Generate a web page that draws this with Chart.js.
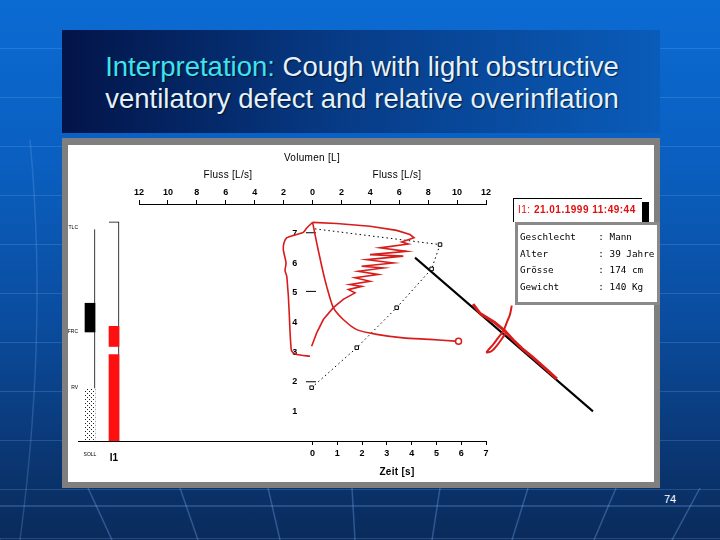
<!DOCTYPE html>
<html>
<head>
<meta charset="utf-8">
<script src="https://cdn.jsdelivr.net/npm/chart.js@4.4.1/dist/chart.umd.min.js"></script>
<style>
  body { margin: 0; }
  #slide {
    position: relative; width: 720px; height: 540px; overflow: hidden;
    font-family: "Liberation Sans", Arial, sans-serif;
    background:
      repeating-linear-gradient(to bottom, rgba(0,0,0,0) 0 48px, rgba(130,180,240,0.22) 48px 49px),
      linear-gradient(to bottom, #0b6bd3 0%, #0a5fc0 30%, #0a4c9e 60%, #0a3672 85%, #0a2b5b 100%);
  }
  #deco { position: absolute; left: 0; top: 0; }
  #titlebox {
    position: absolute; left: 62px; top: 30px; width: 598px; height: 103px;
    background: linear-gradient(to right, #021448 0%, #073a84 45%, #0a5cba 100%);
  }
  #title {
    position: absolute; left: 0; top: 21px; width: 600px; text-align: center;
    font-size: 27.5px; line-height: 32px; color: #e4f1ff;
    text-shadow: 1px 1px 1px rgba(0,0,0,0.6);
  }
  #title .hl { color: #3fe2f0; }
  #frame {
    position: absolute; left: 62px; top: 138px; width: 598px; height: 350px;
    background: #7f7f7f;
  }
  #white {
    position: absolute; left: 68px; top: 145px; width: 586px; height: 337px;
    background: #fff;
  }
  #white canvas { position: absolute; left: 0; top: 0; }
  .lbl { position: absolute; font-size: 10px; color: #000; white-space: nowrap;
         letter-spacing: 0.3px; transform: translate(-50%, -50%); }
  #stamp {
    position: absolute; left: 445px; top: 53px; width: 129px; height: 24px;
    border-left: 1px solid #000; border-top: 1px solid #000; background: #fff;
    box-shadow: 7px 4px 0 0 #000;
    font-size: 10px; font-weight: bold; color: #e01010; letter-spacing: 0.5px;
    line-height: 21px; padding-left: 4px; box-sizing: border-box;
  }
  #stamp span { font-weight: normal; }
  #patient {
    position: absolute; left: 447px; top: 77px; width: 145px; height: 83px;
    border: 3px solid #8a8a8a; box-sizing: border-box; background: #fff;
    font-family: "DejaVu Sans Mono", monospace; font-size: 9.3px; color: #000;
    white-space: pre; padding: 4px 0 0 2px; line-height: 16.5px; overflow: hidden;
  }
  #page { position: absolute; left: 664px; top: 493px; font-size: 11px; color: #fff; }
</style>
</head>
<body>
<div id="slide">
  <svg id="deco" width="720" height="540">
    <g stroke="rgba(120,170,235,0.35)" stroke-width="1.5" fill="none">
      <line x1="-20" y1="488" x2="0" y2="540"/>
      <line x1="88" y1="488" x2="112" y2="540"/>
      <line x1="180" y1="488" x2="198" y2="540"/>
      <line x1="268" y1="488" x2="280" y2="540"/>
      <line x1="352" y1="488" x2="355" y2="540"/>
      <line x1="440" y1="488" x2="432" y2="540"/>
      <line x1="528" y1="488" x2="512" y2="540"/>
      <line x1="616" y1="488" x2="594" y2="540"/>
      <line x1="700" y1="488" x2="672" y2="540"/>
      <line x1="0" y1="506" x2="720" y2="506"/>
      <path d="M30 140 Q 48 330 20 540" stroke="rgba(120,170,235,0.25)"/>
    </g>
  </svg>
  <div id="titlebox">
    <div id="title"><span class="hl">Interpretation:</span> Cough with light obstructive<br>ventilatory defect and relative overinflation</div>
  </div>
  <div id="frame"></div>
  <div id="white">
    <canvas id="bars" width="82" height="337"></canvas>
    <canvas id="loops" width="586" height="337"></canvas>
    <div class="lbl" style="left:244px;top:12px;">Volumen [L]</div>
    <div class="lbl" style="left:160px;top:29px;">Fluss [L/s]</div>
    <div class="lbl" style="left:329px;top:29px;">Fluss [L/s]</div>
    <div class="lbl" style="left:329px;top:326px;font-weight:bold;">Zeit [s]</div>
    <div id="stamp"><span>I1:</span> 21.01.1999 11:49:44</div>
    <div id="patient">Geschlecht    : Mann
Alter         : 39 Jahre
Grösse        : 174 cm
Gewicht       : 140 Kg</div>
  </div>
  <div id="page">74</div>
</div>

<script>
// flow [L/s] / volume [L] pairs
const expLeft = [[0.01,7.38],[-0.40,7.19],[-0.64,7.04],[-1.09,6.97],[-1.78,6.86],[-1.97,6.69],
  [-2.02,6.46],[-1.83,6.01],[-1.90,5.75],[-1.78,5.56],[-1.72,5.20],[-1.67,4.89],[-1.60,4.21],
  [-1.56,3.76],[-1.51,3.32],[-1.44,3.03],[-1.09,2.92],[-0.17,2.86]];
const zigzag = [[0.01,7.38],[1.67,7.34],[3.98,7.25],[5.82,7.11],[6.74,6.97],[7.02,6.86],
  [6.17,6.72],[6.63,6.65],[4.67,6.52],[6.51,6.40],[3.98,6.29],[6.28,6.24],[3.75,6.12],
  [5.59,6.01],[3.40,5.90],[4.90,5.84],[3.17,5.73],[4.55,5.62],[2.94,5.51],[3.98,5.39],
  [2.59,5.28],[3.40,5.22],[2.48,5.11],[2.94,5.00],[2.13,4.78],[1.44,4.50],[0.75,4.10],
  [0.29,3.65],[-0.06,3.20]];
const inspRight = [[0.01,7.38],[0.29,6.69],[0.64,5.90],[0.98,5.22],[1.44,4.50],[2.13,4.10],
  [3.06,3.76],[4.44,3.60],[6.28,3.48],[8.13,3.43],[9.85,3.37],[10.1,3.37]];
const predicted = [[0.17,7.16],[8.82,6.63],[8.24,5.81],[5.82,4.50],[3.06,3.15],[-0.06,1.80]];
const slopeLine = [[7.09,6.19],[19.4,1.0]];
// traced from the lower right end back up along the straight line
const tailTrace = [[16.9,2.10],[16.1,2.45],[15.2,2.84],[14.5,3.12],[13.9,3.40],[13.3,3.72],
  [12.6,4.00],[11.6,4.30],[11.1,4.62]];
const tailLoop = [[13.78,4.57],[13.66,4.27],[13.43,3.99],[13.20,3.71],[12.85,3.49],[12.50,3.26],
  [12.05,3.00],[12.35,3.02],[12.75,3.22],[13.10,3.45],[13.40,3.68]];
const predMarks = [7.03, 5.05, 2.0];
const volumeTicks = [1, 2, 3, 4, 5, 6, 7];
const timeTicks = [0, 1, 2, 3, 4, 5, 6, 7];

// body box bars
const barCats = ['SOLL', 'I1', ''];
const tlcBars = [[0, 7.15], [0, 7.4], null];
const frcBars = [[3.68, 4.65], [3.19, 3.87], null];
const rvBars = [[0, 1.77], [0, 2.92], null];
const barMarks = [1.8, 3.7, 7.2];
const barMarkLabels = ['RV', 'FRC', 'TLC'];

Chart.defaults.font.family = '"Liberation Sans", Arial, sans-serif';
Chart.defaults.color = '#000';

const RED = '#d81c1c';
const pts = (arr) => arr.map(p => ({ x: p[0], y: p[1] }));

function hatch() {
  const c = document.createElement('canvas');
  c.width = 4; c.height = 4;
  const g = c.getContext('2d');
  g.fillStyle = '#fff';
  g.fillRect(0, 0, 4, 4);
  g.fillStyle = '#222';
  g.fillRect(3, 0, 1, 1); g.fillRect(1, 2, 1, 1);
  return g.createPattern(c, 'repeat');
}

const redLine = (data, extra) => Object.assign({
  data: pts(data), borderColor: RED, borderWidth: 1.6, pointRadius: 0, showLine: true, tension: 0
}, extra || {});

const datasets = [
  redLine(expLeft, { tension: 0.2 }),
  redLine(zigzag),
  redLine(inspRight, {
    tension: 0.2,
    pointRadius: (c) => c.dataIndex === inspRight.length - 1 ? 3 : 0,
    pointBackgroundColor: '#fff', pointBorderColor: RED, pointBorderWidth: 1.5
  }),
  redLine(tailTrace, { clip: false, borderWidth: 3, order: 0 }),
  redLine(tailLoop, { clip: false, tension: 0.3, borderWidth: 2, order: 0 }),
  {
    data: pts(slopeLine), borderColor: '#000', borderWidth: 2, pointRadius: 0,
    showLine: true, clip: false, order: 5
  },
  {
    data: pts(predicted), borderColor: '#000', borderWidth: 1, borderDash: [1.5, 3],
    showLine: true, pointStyle: 'rect',
    pointRadius: (c) => c.dataIndex === 0 ? 0 : 2.5,
    pointBackgroundColor: '#fff', pointBorderColor: '#000', pointBorderWidth: 1
  }
].concat(predMarks.map(v => ({
  data: [{ x: -0.45, y: v }, { x: 0.24, y: v }], borderColor: '#000', borderWidth: 1,
  pointRadius: 0, showLine: true
})));

new Chart(document.getElementById('loops'), {
  type: 'scatter',
  data: { datasets: datasets },
  options: {
    responsive: false,
    animation: false,
    layout: { padding: { left: 71, right: 168, top: 0, bottom: 0 } },
    plugins: { legend: { display: false }, tooltip: { enabled: false } },
    scales: {
      x: {
        type: 'linear', position: 'top', min: -12, max: 12,
        ticks: { stepSize: 2, callback: (v) => Math.abs(v), font: { size: 9, weight: 'bold' },
                 padding: 2, maxRotation: 0, autoSkip: false },
        grid: { drawOnChartArea: false, tickLength: 4, color: '#000' },
        border: { color: '#000', width: 1 },
        afterFit: (s) => { s.height = 59; }
      },
      x2: {
        type: 'linear', position: 'bottom', min: -7, max: 7,
        afterBuildTicks: (s) => { s.ticks = timeTicks.map(v => ({ value: v })); },
        ticks: { font: { size: 9, weight: 'bold' }, padding: 3, maxRotation: 0, autoSkip: false },
        grid: { drawOnChartArea: false, tickLength: 4, color: '#000' },
        border: { color: '#000', width: 1 },
        afterFit: (s) => { s.height = 41; }
      },
      y: {
        type: 'linear', position: { x: -1.05 }, min: 0, max: 8,
        afterBuildTicks: (s) => { s.ticks = volumeTicks.map(v => ({ value: v })); },
        ticks: { font: { size: 9, weight: 'bold' }, padding: 0 },
        grid: { display: false, drawTicks: false },
        border: { display: false }
      }
    }
  }
});

new Chart(document.getElementById('bars'), {
  type: 'bar',
  data: {
    labels: barCats,
    datasets: [
      { data: frcBars, backgroundColor: ['#000', '#ff1010'], barThickness: 10, grouped: false,
        borderWidth: 0 },
      { data: rvBars, backgroundColor: [hatch(), '#ff1010'], barThickness: 10, grouped: false,
        borderWidth: 0 },
      { data: tlcBars, backgroundColor: '#fff', borderColor: '#000', barThickness: 10,
        grouped: false, borderSkipped: false,
        borderWidth: (c) => c.dataIndex === 0 ? { top: 0, right: 1, bottom: 0, left: 0 }
                                              : { top: 1, right: 1, bottom: 0, left: 0 } }
    ]
  },
  options: {
    responsive: false,
    animation: false,
    layout: { padding: { left: 0, right: 0, top: 59, bottom: 0 } },
    plugins: { legend: { display: false }, tooltip: { enabled: false } },
    scales: {
      x: {
        grid: { display: false },
        border: { color: '#000', width: 1 },
        ticks: {
          padding: 3, maxRotation: 0, autoSkip: false,
          font: (c) => c.index === 0 ? { size: 5 } : { size: 10, weight: 'bold' }
        },
        afterFit: (s) => { s.height = 41; }
      },
      y: {
        min: 0, max: 8,
        afterBuildTicks: (s) => { s.ticks = barMarks.map(v => ({ value: v })); },
        ticks: { font: { size: 5 }, padding: 0, callback: (v, i) => barMarkLabels[i] },
        grid: { display: false, drawTicks: false },
        border: { display: false },
        afterFit: (s) => { s.width = 10; }
      }
    }
  }
});
</script>
</body>
</html>
